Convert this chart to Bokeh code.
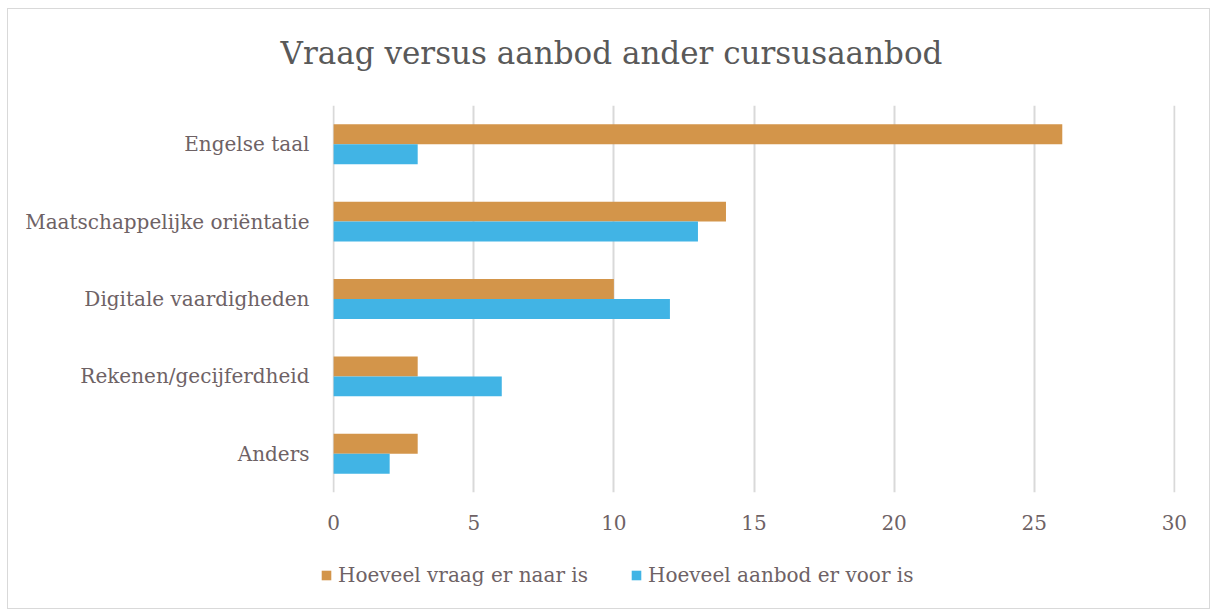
from bokeh.plotting import figure
from bokeh.layouts import column
from bokeh.models import FactorRange, Range1d, Legend, LegendItem, ColumnDataSource, Label
from bokeh.transform import dodge
from bokeh.embed import file_html
from bokeh.resources import INLINE

categories = ["Engelse taal", "Maatschappelijke oriëntatie", "Digitale vaardigheden",
              "Rekenen/gecijferdheid", "Anders"]
vraag = [26, 14, 10, 3, 3]
aanbod = [3, 13, 12, 6, 2]
series_names = ["Hoeveel vraag er naar is", "Hoeveel aanbod er voor is"]
x_ticks = [0, 5, 10, 15, 20, 25, 30]
title_text = "Vraag versus aanbod ander cursusaanbod"

FONT = "DejaVu Serif"
TXT = "#6e6265"
ORANGE = "#D3954A"
BLUE = "#41B4E5"
GRID = "#d9d9d9"

src = ColumnDataSource(dict(cat=categories, vraag=vraag, aanbod=aanbod))

W = 1201
H0, H1, H2 = 80, 456, 63


def strip(h):
    f = figure(width=W, height=h, output_backend="svg", toolbar_location=None,
               x_range=Range1d(0, 1), y_range=Range1d(0, 1),
               min_border_left=0, min_border_right=0, min_border_top=0, min_border_bottom=0)
    f.frame_align = False
    f.axis.visible = False
    f.grid.visible = False
    f.outline_line_color = None
    return f


# title strip
tt = strip(H0)
tt.add_layout(Label(x=603, y=37, x_units="screen", y_units="screen", text=title_text,
                    text_font=FONT, text_font_size="31px", text_color="#595959",
                    text_align="center", text_baseline="middle"))

# main chart
p = figure(width=W, height=H1, output_backend="svg", toolbar_location=None,
           y_range=FactorRange(factors=list(reversed(categories)), range_padding=0),
           x_range=Range1d(-0.04, 30.04),
           min_border_left=324, min_border_right=34, min_border_top=16, min_border_bottom=53)
p.outline_line_color = None
p.frame_align = False

r1 = p.hbar(y=dodge("cat", 0.129, range=p.y_range), right="vraag", left=0, height=0.258,
            source=src, color=ORANGE, line_color=None)
r2 = p.hbar(y=dodge("cat", -0.129, range=p.y_range), right="aanbod", left=0, height=0.258,
            source=src, color=BLUE, line_color=None)

p.xaxis.ticker = x_ticks
p.xaxis.axis_line_color = None
p.xaxis.major_tick_line_color = None
p.xaxis.minor_tick_line_color = None
p.xaxis.major_label_text_font = FONT
p.xaxis.major_label_text_font_size = "20px"
p.xaxis.major_label_text_color = TXT
p.xaxis.major_label_standoff = 16

p.yaxis.axis_line_color = None
p.yaxis.major_tick_line_color = None
p.yaxis.minor_tick_line_color = None
p.yaxis.major_label_text_font = FONT
p.yaxis.major_label_text_font_size = "20px"
p.yaxis.major_label_text_color = TXT
p.yaxis.major_label_standoff = 17

p.ygrid.grid_line_color = None
p.xgrid.grid_line_color = GRID
p.xgrid.grid_line_width = 2

# legend strip
lg = strip(H2)
# off-screen proxies that only supply the legend swatches
g1 = lg.hbar(y=[-5], left=[0], right=[1], height=0.5, color=ORANGE, line_color=None)
g2 = lg.hbar(y=[-5], left=[0], right=[1], height=0.5, color=BLUE, line_color=None)
legend = Legend(items=[LegendItem(label=series_names[0], renderers=[g1]),
                       LegendItem(label=series_names[1], renderers=[g2])],
                orientation="horizontal", location=(312, 21),
                label_text_font=FONT, label_text_font_size="20px", label_text_color=TXT,
                glyph_width=12, glyph_height=12, spacing=42, padding=0, margin=0,
                border_line_color=None, background_fill_alpha=0, label_standoff=6)
lg.add_layout(legend, "center")

layout = column(tt, p, lg, spacing=0,
                styles={"border": "1px solid #d9d9d9", "margin-left": "7px", "margin-top": "8px"})

open("out.html", "w").write(file_html(layout, INLINE))
